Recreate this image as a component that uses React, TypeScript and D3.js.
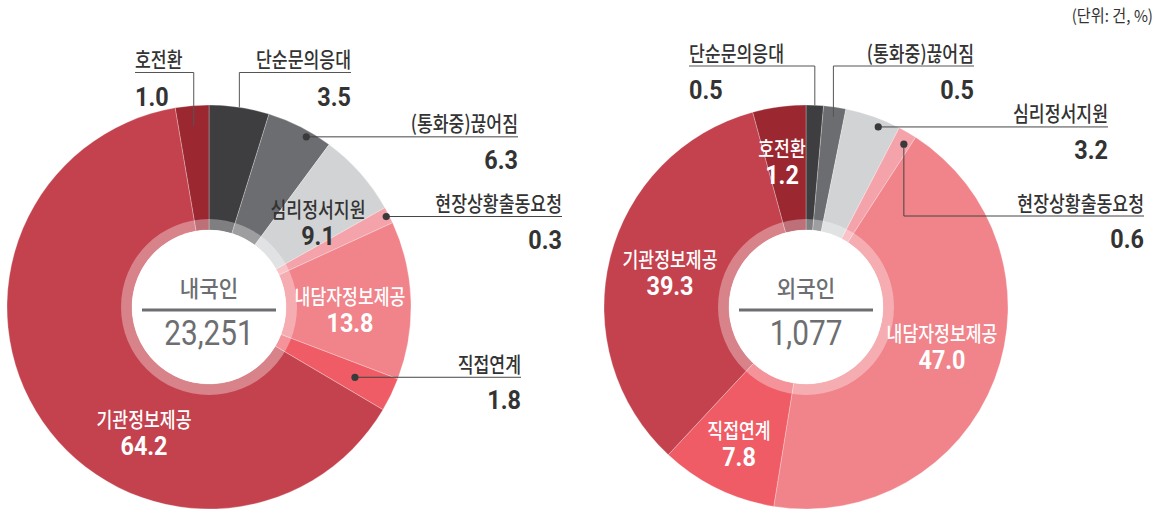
import React from 'react';
import * as d3 from 'd3';

// ---------- data ----------
const categories = ['단순문의응대', '(통화중)끊어짐', '심리정서지원', '현장상황출동요청', '내담자정보제공', '직접연계', '기관정보제공', '호전환'];
const sliceColors = ['#3e3e40', '#6c6d71', '#d2d3d5', '#f5a3ab', '#f1838a', '#ef5c65', '#c4424e', '#9b2731'];

const groupNames = ['내국인', '외국인'];
const groupTotals = ['23,251', '1,077'];

// labelled percentages
const domesticValues = [3.5, 6.3, 9.1, 0.3, 13.8, 1.8, 64.2, 1.0];
const foreignValues = [0.5, 0.5, 3.2, 0.6, 47.0, 7.8, 39.3, 1.2];
// slice sizes as drawn in the picture (small slices are enlarged there)
const domesticArcShare = [4.8, 5.33, 6.69, 1.33, 12.64, 2.69, 63.83, 2.67];
const foreignArcShare = [1.39, 1.78, 4.47, 1.5, 43.44, 9.39, 33.83, 4.25];

const unitLabel = '(단위: 건, %)';

// ---------- style ----------
const KR = '"Noto Sans CJK KR", "Noto Sans", sans-serif';
const NUM = 'Roboto, "Noto Sans", sans-serif';
const DARK = '#333333';
const GRAY = '#6d6e71';
const R_OUT = 202;
const R_IN = 77;
const R_BAND = 88;

type Layout =
  | { kind: 'inside'; x: number; y: number; fill: string }
  | { kind: 'over'; anchor: 'start' | 'end'; textX: number; lineY: number; r: number }
  | { kind: 'dot'; textRight: number; lineY?: number; r: number; t: number };

const domesticLayout: Layout[] = [
  { kind: 'over', anchor: 'end', textX: 351, lineY: 72.5, r: 202 },
  { kind: 'dot', textRight: 518, r: 196, t: 0.65 },
  { kind: 'inside', x: 318, y: 217, fill: DARK },
  { kind: 'dot', textRight: 562, r: 199, t: 0.5 },
  { kind: 'inside', x: 350, y: 304, fill: '#ffffff' },
  { kind: 'dot', textRight: 521, r: 162, t: 0.5 },
  { kind: 'inside', x: 144, y: 427, fill: '#ffffff' },
  { kind: 'over', anchor: 'start', textX: 135, lineY: 72.5, r: 182 },
];

const foreignLayout: Layout[] = [
  { kind: 'over', anchor: 'start', textX: 689, lineY: 66, r: 202 },
  { kind: 'over', anchor: 'end', textX: 974, lineY: 66, r: 192 },
  { kind: 'dot', textRight: 1108, r: 194, t: 0.65 },
  { kind: 'dot', textRight: 1144, lineY: 216, r: 190, t: 0.65 },
  { kind: 'inside', x: 942, y: 341, fill: '#ffffff' },
  { kind: 'inside', x: 739, y: 438, fill: '#ffffff' },
  { kind: 'inside', x: 670, y: 267, fill: '#ffffff' },
  { kind: 'inside', x: 782, y: 156, fill: '#ffffff' },
];

function KText(props: { x: number; y: number; text: string; anchor: string; fill: string; size?: number; weight?: number; sx?: number }) {
  const { x, y, text, anchor, fill, size = 21, weight = 500, sx = 0.82 } = props;
  return (
    <g transform={`translate(${x},${y}) scale(${sx},1)`}>
      <text textAnchor={anchor as any} fontFamily={KR} fontSize={size} fontWeight={weight} fill={fill}>{text}</text>
    </g>
  );
}

function NText(props: { x: number; y: number; text: string; anchor: string; fill: string; size?: number; weight?: number; sx?: number }) {
  const { x, y, text, anchor, fill, size = 26, weight = 700, sx = 0.9 } = props;
  return (
    <g transform={`translate(${x},${y}) scale(${sx},1)`}>
      <text textAnchor={anchor as any} fontFamily={NUM} fontSize={size} fontWeight={weight} fill={fill}>{text}</text>
    </g>
  );
}

function Donut(props: { cx: number; cy: number; shares: number[]; values: number[]; layout: Layout[]; name: string; total: string }) {
  const { cx, cy, shares, values, layout, name, total } = props;
  const pie = d3.pie<number>().sort(null).value((d) => d);
  const arcs = pie(shares);
  const arcGen = d3.arc<d3.PieArcDatum<number>>().innerRadius(R_IN).outerRadius(R_OUT);
  const bandArc = d3.arc()({ innerRadius: R_IN - 1, outerRadius: R_BAND, startAngle: 0, endAngle: Math.PI * 2 } as any) as string;
  const pt = (a: number, r: number) => [cx + r * Math.sin(a), cy - r * Math.cos(a)];

  const labels: React.ReactNode[] = [];
  arcs.forEach((a, i) => {
    const L = layout[i];
    const txt = categories[i];
    const num = values[i].toFixed(1);
    const mid = (a.startAngle + a.endAngle) / 2;
    if (L.kind === 'inside') {
      labels.push(
        <g key={`l${i}`}>
          <KText x={L.x} y={L.y} text={txt} anchor="middle" fill={L.fill} />
          <NText x={L.x} y={L.y + 28} text={num} anchor="middle" fill={L.fill} />
        </g>
      );
    } else if (L.kind === 'over') {
      const [lx, ly] = pt(mid, L.r);
      const x0 = L.anchor === 'start' ? L.textX : lx;
      const x1 = L.anchor === 'start' ? lx : L.textX;
      labels.push(
        <g key={`l${i}`}>
          <path d={`M${x0},${L.lineY}H${x1}`} stroke="#555" strokeWidth={1} fill="none" />
          <path d={`M${lx},${L.lineY}V${ly}`} stroke="#555" strokeWidth={1} fill="none" />
          <KText x={L.textX} y={L.lineY - 5.5} text={txt} anchor={L.anchor} fill={DARK} />
          <NText x={L.textX} y={L.lineY + 33} text={num} anchor={L.anchor} fill={DARK} />
        </g>
      );
    } else {
      const ang = a.startAngle + L.t * (a.endAngle - a.startAngle);
      const [dx, dy] = pt(ang, L.r);
      const lineY = L.lineY ?? dy;
      const d = L.lineY !== undefined ? `M${dx},${dy}V${lineY}H${L.textRight}` : `M${dx},${dy}H${L.textRight}`;
      labels.push(
        <g key={`l${i}`}>
          <path d={d} stroke="#444" strokeWidth={1} fill="none" />
          <circle cx={dx} cy={dy} r={3.6} fill="#3a3a3a" />
          <KText x={L.textRight} y={lineY - 5.5} text={txt} anchor="end" fill={DARK} />
          <NText x={L.textRight} y={lineY + 32} text={num} anchor="end" fill={DARK} />
        </g>
      );
    }
  });

  return (
    <g>
      <g transform={`translate(${cx},${cy})`}>
        {arcs.map((a, i) => (
          <path key={i} d={arcGen(a) as string} fill={sliceColors[i]} stroke="#ffffff" strokeOpacity={0.45} strokeWidth={0.6} />
        ))}
        <path d={bandArc} fill="#ffffff" fillOpacity={0.34} />
        <circle r={R_IN} fill="#ffffff" />
      </g>
      <KText x={cx} y={cy - 10} text={name} anchor="middle" fill={GRAY} size={23} weight={500} sx={0.92} />
      <line x1={cx - 67} x2={cx + 67} y1={cy + 3} y2={cy + 3} stroke={GRAY} strokeWidth={3} />
      <NText x={cx} y={cy + 38} text={total} anchor="middle" fill={GRAY} size={35} weight={400} sx={0.85} />
      {labels}
    </g>
  );
}

export default function App() {
  return (
    <svg width={1165} height={510} style={{ position: 'absolute', left: 0, top: 0, background: '#ffffff' }}>
      <Donut cx={209} cy={307} shares={domesticArcShare} values={domesticValues} layout={domesticLayout} name={groupNames[0]} total={groupTotals[0]} />
      <Donut cx={806} cy={307} shares={foreignArcShare} values={foreignValues} layout={foreignLayout} name={groupNames[1]} total={groupTotals[1]} />
      <KText x={1153} y={22} text={unitLabel} anchor="end" fill={DARK} size={16.5} weight={400} sx={0.92} />
    </svg>
  );
}
